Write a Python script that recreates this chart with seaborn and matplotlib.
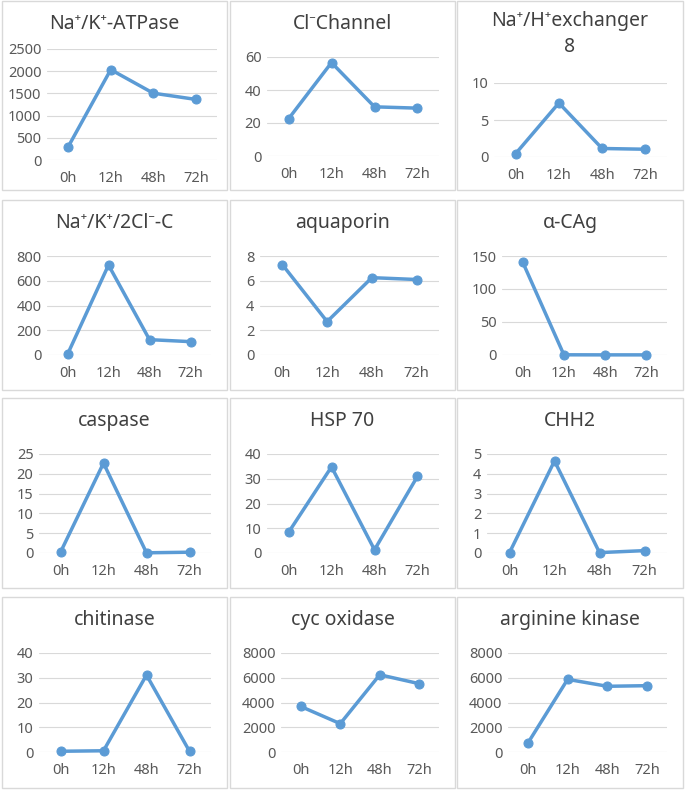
import pandas as pd
import matplotlib
matplotlib.use("Agg")
import matplotlib.pyplot as plt
from matplotlib.patches import Rectangle
import seaborn as sns

# Data
times = ["0h", "12h", "48h", "72h"]
titles = [
    "Na\u207a/K\u207a-ATPase", "Cl\u207bChannel", "Na\u207a/H\u207aexchanger\n8",
    "Na\u207a/K\u207a/2Cl\u207b-C", "aquaporin", "\u03b1-CAg",
    "caspase", "HSP 70", "CHH2",
    "chitinase", "cyc oxidase", "arginine kinase",
]
atpase = [300, 2035, 1505, 1365]
cl_channel = [22.5, 56.6, 29.8, 29.0]
nhe8 = [0.45, 7.3, 1.15, 1.05]
nkcc = [5, 727, 124, 108]
aquaporin = [7.3, 2.7, 6.25, 6.1]
alpha_cag = [141, 0.3, 0.2, 0.2]
caspase = [0.2, 22.7, 0.05, 0.2]
hsp70 = [8.3, 34.8, 1.3, 31.0]
chh2 = [0.02, 4.65, 0.02, 0.12]
chitinase = [0.3, 0.5, 31.1, 0.3]
cyc_oxidase = [3680, 2290, 6240, 5520]
arginine_kinase = [720, 5870, 5310, 5360]
series = [atpase, cl_channel, nhe8, nkcc, aquaporin, alpha_cag,
          caspase, hsp70, chh2, chitinase, cyc_oxidase, arginine_kinase]
y_max = [2500, 60, 10, 800, 8, 150, 25, 40, 5, 40, 8000, 8000]
y_step = [500, 20, 5, 200, 2, 50, 5, 10, 1, 10, 2000, 2000]

W, H = 685, 790
LINE = "#5B9BD5"
TEXT = "#595959"

sns.set_style("white")
plt.rcParams["font.family"] = ["Noto Sans", "DejaVu Sans"]

fig = plt.figure(figsize=(W / 100, H / 100), dpi=100)

col_l = [2, 230, 457]
col_r = [227, 455, 683]
row_t = [1, 200, 398, 597]
row_b = [190, 390, 588, 788]


def fx(px):
    return px / W


def fy(py):
    return 1 - py / H


for i, (title, vals) in enumerate(zip(titles, series)):
    r, c = divmod(i, 3)
    pl, pr, pt, pb = col_l[c], col_r[c], row_t[r], row_b[r]

    # panel frame
    fig.patches.append(Rectangle((fx(pl), fy(pb)), fx(pr - pl), (pb - pt) / H,
                                 transform=fig.transFigure, fill=False,
                                 edgecolor="#D9D9D9", linewidth=1))

    digits = len(str(y_max[i]))
    left_pad = {1: 30, 2: 37, 3: 45, 4: 51}[digits]
    top_off, bot_off, right_pad = 56, 155, 16
    if i == 0:
        left_pad, top_off, bot_off, right_pad = 45, 48, 159, 10
    if i == 2:
        top_off, bot_off = 82, 156

    ax = fig.add_axes([fx(pl + left_pad), fy(pt + bot_off),
                       fx(pr - right_pad - pl - left_pad), (bot_off - top_off) / H])

    df = pd.DataFrame({"time": times, "value": vals})
    sns.lineplot(data=df, x="time", y="value", ax=ax, color=LINE, linewidth=2.5,
                 marker="o", markersize=6.5, markeredgecolor=LINE, clip_on=False,
                 zorder=3)

    ax.set_xlim(-0.5, 3.5)
    ax.set_ylim(0, y_max[i])
    ax.set_yticks(range(0, y_max[i] + 1, y_step[i]))
    ax.grid(axis="y", color="#D9D9D9", linewidth=0.8)
    ax.set_axisbelow(True)
    for s in ax.spines.values():
        s.set_visible(False)
    ax.set_xlabel("")
    ax.set_ylabel("")
    ax.tick_params(axis="both", length=0, labelsize=10.5, labelcolor=TEXT)
    ax.tick_params(axis="x", pad=8)
    ax.tick_params(axis="y", pad=4)

    ty = pt + (33 if i == 2 else 23)
    fig.text(fx((pl + pr) / 2), fy(ty), title, ha="center", va="center",
             fontsize=14, color="#404040", linespacing=1.35)

fig.savefig("out.png", dpi=100, facecolor="white")
